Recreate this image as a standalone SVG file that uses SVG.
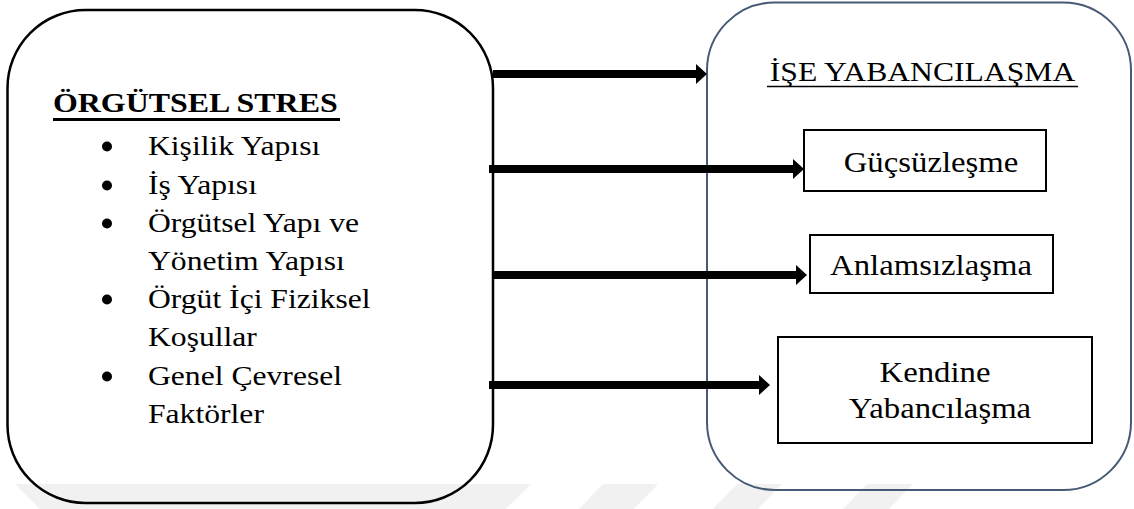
<svg xmlns="http://www.w3.org/2000/svg" width="1134" height="509" viewBox="0 0 1134 509">
  <style>
    text { font-family: 'Liberation Serif', 'Times New Roman', serif; fill: #000; }
    .list { font-size: 28px; }
    .box { font-size: 29px; }
    .wm { fill: #f1f1f1; }
    .conn { stroke: #000; stroke-width: 8; fill: none; }
  </style>
  <defs>
    <marker id="ah" viewBox="0 0 11 20" markerWidth="11" markerHeight="20" refX="0" refY="10" orient="auto" markerUnits="userSpaceOnUse">
      <polygon points="0,0 11,10 0,20" fill="#000"/>
    </marker>
  </defs>
  <rect width="1134" height="509" fill="#fff"/>

  <g id="watermark">
    <polygon class="wm" points="15,484 531,484 506,509 40,509"/>
    <polygon class="wm" points="603,484 658,484 634,509 579,509"/>
    <polygon class="wm" points="737,484 782,484 758,509 713,509"/>
    <polygon class="wm" points="867,484 913,484 889,509 843,509"/>
  </g>

  <g id="orgutsel-stres">
    <rect x="7.5" y="10" width="485.5" height="493" rx="78" ry="78" fill="none" stroke="#000" stroke-width="2.5"/>
    <text transform="translate(53 112) scale(1.14 1)" font-size="28" font-weight="bold">ÖRGÜTSEL STRES</text>
    <line x1="53" y1="119.5" x2="340" y2="119.5" stroke="#000" stroke-width="3"/>
    <circle cx="107" cy="146.5" r="5"/>
    <text class="list" transform="translate(148 155) scale(1.13 1)">Kişilik Yapısı</text>
    <circle cx="107" cy="185.5" r="5"/>
    <text class="list" transform="translate(148 194) scale(1.13 1)">İş Yapısı</text>
    <circle cx="107" cy="223.5" r="5"/>
    <text class="list" transform="translate(148 232) scale(1.13 1)">Örgütsel Yapı ve</text>
    <text class="list" transform="translate(148 270) scale(1.13 1)">Yönetim Yapısı</text>
    <circle cx="107" cy="299.5" r="5"/>
    <text class="list" transform="translate(148 308) scale(1.13 1)">Örgüt İçi Fiziksel</text>
    <text class="list" transform="translate(148 346) scale(1.13 1)">Koşullar</text>
    <circle cx="107" cy="376.5" r="5"/>
    <text class="list" transform="translate(148 385) scale(1.13 1)">Genel Çevresel</text>
    <text class="list" transform="translate(148 423) scale(1.13 1)">Faktörler</text>
  </g>

  <g id="ise-yabancilasma">
    <rect x="707" y="2.5" width="424" height="487.5" rx="68" ry="68" fill="none" stroke="#475a75" stroke-width="2"/>
    <text transform="translate(922.5 81) scale(1.13 1)" font-size="28" text-anchor="middle">İŞE YABANCILAŞMA</text>
    <line x1="767" y1="86.5" x2="1078" y2="86.5" stroke="#000" stroke-width="1.5"/>
  </g>

  <g id="gucsuzlesme">
    <rect x="804" y="130" width="242" height="61" fill="#fff" stroke="#000" stroke-width="2"/>
    <text class="box" transform="translate(931 172) scale(1.13 1)" text-anchor="middle">Güçsüzleşme</text>
  </g>

  <g id="anlamsizlasma">
    <rect x="810" y="235" width="243" height="58" fill="#fff" stroke="#000" stroke-width="2"/>
    <text class="box" transform="translate(931 275) scale(1.13 1)" text-anchor="middle">Anlamsızlaşma</text>
  </g>

  <g id="kendine-yabancilasma">
    <rect x="778" y="337" width="314" height="106" fill="#fff" stroke="#000" stroke-width="2"/>
    <text class="box" transform="translate(935 382) scale(1.13 1)" text-anchor="middle">Kendine</text>
    <text class="box" transform="translate(940 418) scale(1.13 1)" text-anchor="middle">Yabancılaşma</text>
  </g>

  <g id="connectors">
    <line class="conn" x1="493" y1="74" x2="696" y2="74" marker-end="url(#ah)"/>
    <line class="conn" x1="489" y1="169" x2="793" y2="169" marker-end="url(#ah)"/>
    <line class="conn" x1="492" y1="275" x2="796" y2="275" marker-end="url(#ah)"/>
    <line class="conn" x1="489" y1="385" x2="759" y2="385" marker-end="url(#ah)"/>
  </g>
</svg>
